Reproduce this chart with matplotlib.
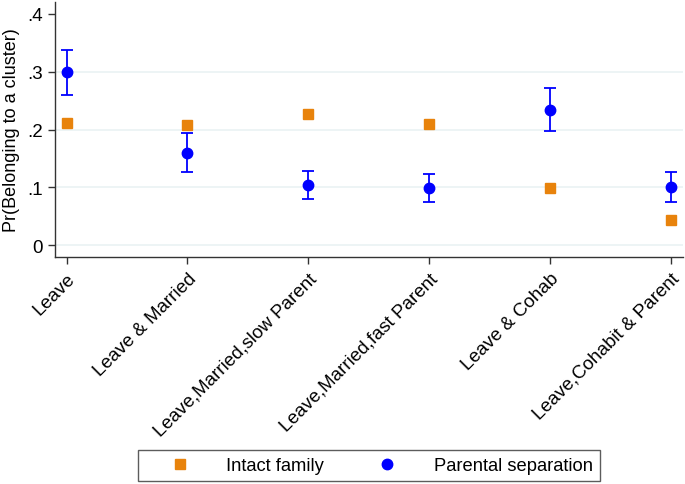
import numpy as np
import matplotlib.pyplot as plt

plt.rcParams['font.family'] = ['Liberation Sans', 'DejaVu Sans']

categories = ["Leave", "Leave & Married", "Leave,Married,slow Parent",
              "Leave,Married,fast Parent", "Leave & Cohab", "Leave,Cohabit & Parent"]
intact = [0.2115, 0.2075, 0.226, 0.209, 0.098, 0.044]
separation = [0.299, 0.160, 0.104, 0.098, 0.234, 0.101]
sep_low = [0.259, 0.126, 0.079, 0.074, 0.197, 0.074]
sep_high = [0.338, 0.194, 0.129, 0.123, 0.271, 0.127]

orange = "#E8830C"
blue = "#0000FF"
axcol = "#333333"

fig = plt.figure(figsize=(6.85, 4.85), dpi=100)
ax = fig.add_axes([54.5 / 685, 1 - 258 / 485, (683 - 54.5) / 685, (258 - 3) / 485])

x = np.arange(len(categories))
sep = np.array(separation)
yerr = [sep - np.array(sep_low), np.array(sep_high) - sep]

for g in [0, 0.1, 0.2, 0.3]:
    ax.axhline(g, color="#EAF2F3", lw=1.2, zorder=0)

ax.plot(x, intact, ls="none", marker="s", ms=7.5, color=orange, mec=orange,
        label="Intact family", zorder=3)
ax.errorbar(x, sep, yerr=yerr, fmt="o", ms=7.5, color=blue, ecolor=blue,
            elinewidth=1.3, capsize=4, capthick=1.3, label="Parental separation", zorder=3)

ax.set_xlim(-0.1, 5.1)
ax.set_ylim(-0.0207, 0.4207)
ax.set_yticks([0, 0.1, 0.2, 0.3, 0.4])
ax.set_yticklabels(["0", ".1", ".2", ".3", ".4"], rotation=0)
ax.set_xticks(x)
ax.set_xticklabels(categories, rotation=45, ha="right", rotation_mode="anchor")
ax.tick_params(axis="both", labelsize=13.5, color=axcol, length=5, width=1, direction="out")
ax.tick_params(axis="x", pad=4)
ax.set_ylabel("Pr(Belonging to a cluster)", fontsize=13, labelpad=5)

for s in ["top", "right"]:
    ax.spines[s].set_visible(False)
for s in ["left", "bottom"]:
    ax.spines[s].set_color(axcol)
    ax.spines[s].set_linewidth(1)

h, l = ax.get_legend_handles_labels()
h2 = [h[0], h[1][0]]
leg = fig.legend(h2, l, loc="center", bbox_to_anchor=(369 / 685, 1 - 466.5 / 485),
                 ncol=2, fontsize=13.2, frameon=True, fancybox=False, edgecolor=axcol,
                 handlelength=3.8, handletextpad=0.62, columnspacing=1.55,
                 borderpad=0.4, markerscale=1.0)
leg.get_frame().set_linewidth(1)

fig.savefig("out.png", dpi=100)
